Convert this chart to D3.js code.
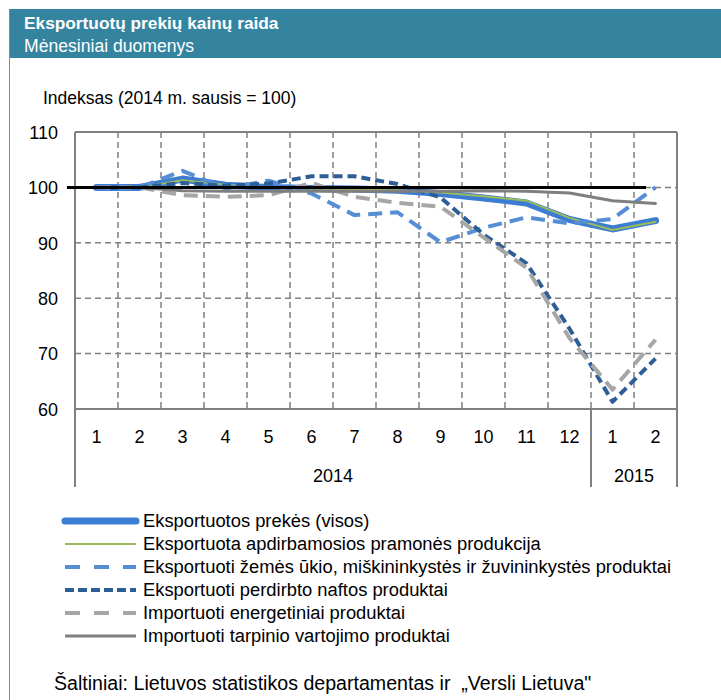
<!DOCTYPE html>
<html>
<head>
<meta charset="utf-8">
<script src="https://cdn.jsdelivr.net/npm/d3@7"></script>
<style>
  body { margin: 0; background: #fff; }
  svg text { font-family: "Liberation Sans Narrow", "Arial Narrow", "Liberation Sans", sans-serif; fill: #000; }
</style>
</head>
<body>
<svg id="chart" width="721" height="700"></svg>
<script>
const months = ["1","2","3","4","5","6","7","8","9","10","11","12","1","2"];
const years = [{label: "2014", from: 0, to: 12}, {label: "2015", from: 12, to: 14}];
const yTicks = [60, 70, 80, 90, 100, 110];

// values
const visos      = [100, 100, 101.5, 100.4, 100, 99.8, 99.7, 99.5, 98.9, 98.1, 97.2, 94.2, 92.5, 94.0];
const apdirbamos = [100, 100, 101.3, 100.5, 100, 99.8, 99.7, 99.5, 99.1, 98.4, 97.6, 94.5, 92.3, 93.8];
const zemes      = [100, 100, 103.0, 99.8, 101.2, 98.9, 95.0, 95.5, 90.1, 92.7, 94.6, 93.5, 94.3, 100.0];
const naftos     = [100, 100, 100.8, 100.3, 100.7, 102.0, 102.0, 100.6, 98.2, 91.5, 86.3, 74.5, 61.3, 69.1];
const energ      = [100, 100, 98.6, 98.3, 98.6, 100.8, 98.3, 97.2, 96.5, 91.0, 85.5, 72.8, 63.5, 72.5];
const tarpinio   = [100, 100, 99.4, 99.3, 99.3, 99.3, 99.3, 99.3, 99.3, 99.4, 99.3, 99.0, 97.6, 97.1];

const series = [
  {name: "Eksportuotos prekės (visos)", values: visos, color: "#3c7dd4", width: 7, dash: null},
  {name: "Eksportuota apdirbamosios pramonės produkcija", values: apdirbamos, color: "#9bbb59", width: 2, dash: null},
  {name: "Eksportuoti žemės ūkio, miškininkystės ir žuvininkystės produktai", values: zemes, color: "#558ed5", width: 4, dash: "14,8"},
  {name: "Eksportuoti perdirbto naftos produktai", values: naftos, color: "#2e5e96", width: 4, dash: "9,5"},
  {name: "Importuoti energetiniai produktai", values: energ, color: "#a6a6a6", width: 4, dash: "14,8"},
  {name: "Importuoti tarpinio vartojimo produktai", values: tarpinio, color: "#7f7f7f", width: 3, dash: null}
];

const svg = d3.select("#chart");
const plotL = 75, plotR = 677, plotT = 132, plotB = 409, axisB = 487;

// header
svg.append("rect").attr("x", 9).attr("y", 9).attr("width", 712).attr("height", 49).attr("fill", "#35849f");
svg.append("line").attr("x1", 9.5).attr("x2", 9.5).attr("y1", 9).attr("y2", 700)
  .attr("stroke", "#5b8fc9").attr("stroke-width", 1);
svg.append("text").attr("x", 24).attr("y", 29).style("font-size", "17.3px").style("font-weight", "bold")
  .style("fill", "#fff").text("Eksportuotų prekių kainų raida");
svg.append("text").attr("x", 24).attr("y", 52).style("font-size", "17.6px")
  .style("fill", "#fff").text("Mėnesiniai duomenys");

svg.append("text").attr("x", 43).attr("y", 104).style("font-size", "17.5px")
  .text("Indeksas (2014 m. sausis = 100)");

const x = d3.scaleBand().domain(d3.range(months.length)).range([plotL, plotR]);
const y = d3.scaleLinear().domain([60, 110]).range([plotB, plotT]);
const cx = i => x(i) + x.bandwidth() / 2;

// grid
const grid = svg.append("g");
grid.selectAll("line.h").data(yTicks.filter(v => v > 60 && v < 110)).join("line")
  .attr("x1", plotL).attr("x2", plotR).attr("y1", d => y(d)).attr("y2", d => y(d))
  .attr("stroke", "#808080").attr("stroke-width", 1.5).attr("stroke-dasharray", "6,4");
grid.selectAll("line.v").data(d3.range(1, months.length)).join("line")
  .attr("x1", d => x(d)).attr("x2", d => x(d)).attr("y1", plotT).attr("y2", plotB)
  .attr("stroke", "#808080").attr("stroke-width", 1.5).attr("stroke-dasharray", "6,4");

// frame
const frame = svg.append("g").attr("stroke", "#808080").attr("stroke-width", 2).attr("fill", "none");
frame.append("line").attr("x1", plotL).attr("x2", plotR).attr("y1", plotT).attr("y2", plotT);
frame.append("line").attr("x1", plotL).attr("x2", plotR).attr("y1", plotB).attr("y2", plotB);
frame.append("line").attr("x1", plotL).attr("x2", plotL).attr("y1", plotT).attr("y2", axisB);
frame.append("line").attr("x1", plotR).attr("x2", plotR).attr("y1", plotT).attr("y2", axisB);
frame.append("line").attr("x1", x(12)).attr("x2", x(12)).attr("y1", plotB).attr("y2", axisB);

// y axis labels
svg.append("g").attr("transform", `translate(${plotL - 17},0)`)
  .call(d3.axisLeft(y).tickValues(yTicks).tickSize(0).tickPadding(0))
  .call(g => g.select(".domain").remove())
  .call(g => g.selectAll("text").style("font-size", "18px").attr("dy", "0.35em"));

// month labels
svg.append("g").attr("transform", `translate(0,${plotB + 28})`)
  .call(d3.axisBottom(x).tickFormat(i => months[i]).tickSize(0).tickPadding(0))
  .call(g => g.select(".domain").remove())
  .call(g => g.selectAll("text").style("font-size", "18px").attr("dy", "0.35em"));

svg.selectAll("text.year").data(years).join("text").attr("class", "year")
  .attr("x", d => (x(d.from) + (d.to < months.length ? x(d.to) : plotR)) / 2)
  .attr("y", 482).attr("text-anchor", "middle").style("font-size", "18px").text(d => d.label);

// lines
const line = d3.line().x((d, i) => cx(i)).y(d => y(d));
svg.selectAll("path.series").data(series).join("path").attr("class", "series")
  .attr("d", d => line(d.values)).attr("fill", "none")
  .attr("stroke", d => d.color).attr("stroke-width", d => d.width)
  .attr("stroke-dasharray", d => d.dash).attr("stroke-linejoin", "round")
  .attr("stroke-linecap", d => d.dash ? "butt" : "round");

// reference line at 100
svg.append("line").attr("x1", 67).attr("x2", 646).attr("y1", y(100)).attr("y2", y(100))
  .attr("stroke", "#000").attr("stroke-width", 3);

// legend
const legend = svg.selectAll("g.leg").data(series).join("g").attr("class", "leg")
  .attr("transform", (d, i) => `translate(0,${521 + i * 23})`);
legend.append("line").attr("x1", 65).attr("x2", 136).attr("y1", 0).attr("y2", 0)
  .attr("stroke", d => d.color).attr("stroke-width", d => d.width)
  .attr("stroke-dasharray", d => d.dash ? (d.name.startsWith("Eksportuoti perdirbto") ? "9,4" : "15,14") : null)
  .attr("stroke-linecap", d => d.width > 5 ? "round" : "butt");
legend.append("text").attr("x", 143).attr("y", 0).attr("dy", "0.35em")
  .style("font-size", "18.35px").text(d => d.name);

svg.append("text").attr("x", 54).attr("y", 690).style("font-size", "19.6px")
  .text("Šaltiniai: Lietuvos statistikos departamentas ir\u00A0 „Versli Lietuva\"");
</script>
</body>
</html>
